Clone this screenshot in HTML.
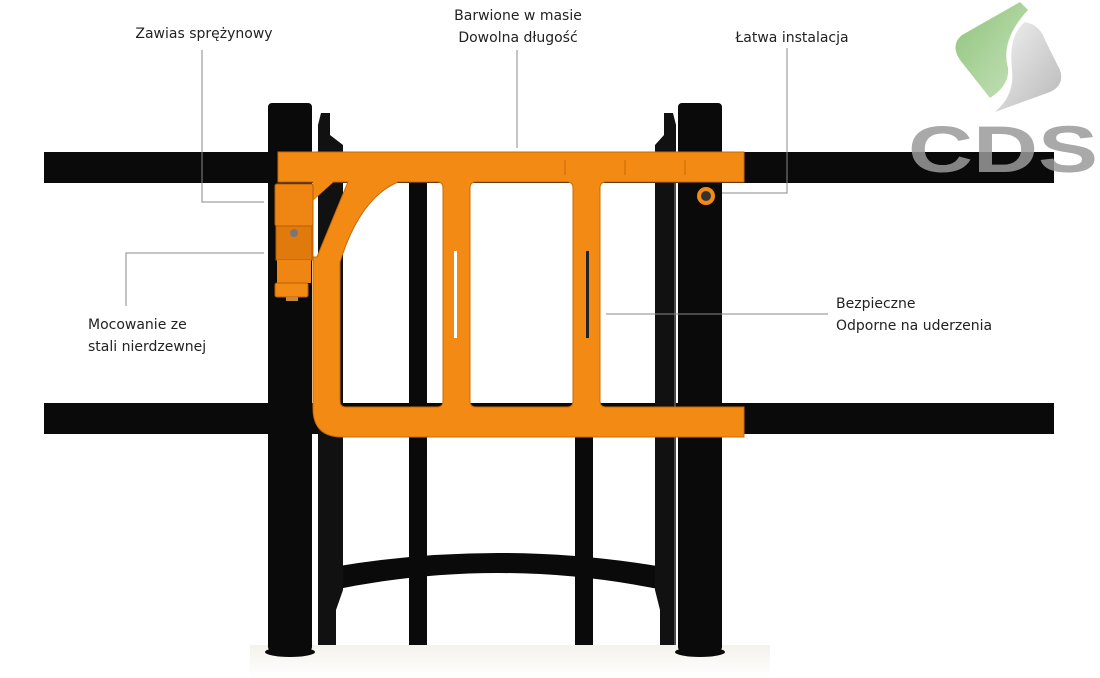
<!DOCTYPE html>
<html><head><meta charset="utf-8"><style>
html,body{margin:0;padding:0;background:#fff;width:1100px;height:678px;overflow:hidden}
svg{display:block}
text{font-family:"DejaVu Sans","Liberation Sans",sans-serif;font-size:14px;fill:#222}
</style></head><body>
<svg width="1100" height="678" viewBox="0 0 1100 678" xmlns="http://www.w3.org/2000/svg">
<defs>
<linearGradient id="gr" x1="0" y1="0" x2="0" y2="1"><stop offset="0" stop-color="#f4f2ec"/><stop offset="1" stop-color="#ffffff"/></linearGradient>
<linearGradient id="gl" x1="0" y1="0" x2="1" y2="1"><stop offset="0" stop-color="#8fc47c"/><stop offset="1" stop-color="#c8e2bc"/></linearGradient>
<linearGradient id="gy" x1="0" y1="0" x2="1" y2="1"><stop offset="0" stop-color="#f2f2f2"/><stop offset="1" stop-color="#b8b8b8"/></linearGradient>
</defs>
<rect x="250" y="645" width="520" height="33" fill="url(#gr)"/>
<rect x="44" y="152" width="1010" height="31" fill="#0a0a0a"/>
<rect x="44" y="403" width="1010" height="31" fill="#0a0a0a"/>
<path d="M333,590 Q498,556 663,590 L663,567 Q498,539 333,567 Z" fill="#0a0a0a"/>
<rect x="409" y="183" width="18" height="462" fill="#0a0a0a"/>
<rect x="575" y="183" width="18" height="462" fill="#0a0a0a"/>
<path d="M318,125 L321,113 L330,113 L330,135 L343,145 L343,590 L336,610 L336,645 L318,645 Z" fill="#111"/>
<path d="M676,125 L673,113 L664,113 L664,135 L655,145 L655,590 L660,610 L660,645 L676,645 Z" fill="#111"/>
<rect x="268" y="103" width="44" height="548" rx="4" fill="#0a0a0a"/>
<rect x="678" y="103" width="44" height="548" rx="4" fill="#0a0a0a"/>
<ellipse cx="290" cy="652" rx="25" ry="5" fill="#0a0a0a"/>
<ellipse cx="700" cy="652" rx="25" ry="5" fill="#0a0a0a"/>
<line x1="675" y1="183" x2="675" y2="645" stroke="#888" stroke-width="1"/>
<path fill-rule="evenodd" fill="#f28a14" stroke="#c96a05" stroke-width="1"
 d="M278,152 H744 V182 H606 Q600,182 600,188 V401 Q600,407 606,407 H744 V437 H342 Q313,437 313,408 V182 H278 Z
 M398,182 H437 Q443,182 443,188 V401 Q443,407 437,407 H346 Q340,407 340,401 V262 Q360,198 398,182 Z
 M476,182 H567 Q573,182 573,188 V401 Q573,407 567,407 H476 Q470,407 470,401 V188 Q470,182 476,182 Z
 M333,182 H348 L317,257 L313,257 L313,200 Z"/>
<path d="M313,200 L333,182 L313,182 Z" fill="#f28a14"/>
<rect x="275" y="184" width="38" height="42" rx="2" fill="#ef8512" stroke="#b85f05"/>
<rect x="276" y="226" width="36" height="34" fill="#e07a0c" stroke="#b85f05"/>
<circle cx="294" cy="233" r="4" fill="#777"/>
<rect x="277" y="260" width="34" height="23" fill="#ef8512"/>
<rect x="275" y="283" width="33" height="14" rx="2" fill="#f28a14" stroke="#b85f05"/>
<rect x="286" y="297" width="12" height="4" fill="#c08a3a"/>
<rect x="454" y="251" width="3" height="87" fill="#fff"/>
<rect x="586" y="251" width="3" height="87" fill="#222"/>
<g stroke="#c96a05" stroke-width="1"><line x1="565" y1="160" x2="565" y2="175"/><line x1="625" y1="160" x2="625" y2="175"/><line x1="685" y1="160" x2="685" y2="175"/></g>
<circle cx="706" cy="196" r="9" fill="#f28a14"/><circle cx="706" cy="196" r="5" fill="#333"/>
<g stroke="#888" stroke-width="1" fill="none">
<polyline points="202,50 202,202 264,202"/>
<line x1="517" y1="50" x2="517" y2="148"/>
<polyline points="787,48 787,193 722,193"/>
<polyline points="126,306 126,253 264,253"/>
<line x1="606" y1="314" x2="828" y2="314"/>
</g>
<text x="204" y="38" text-anchor="middle">Zawias sprężynowy</text>
<text x="518" y="20" text-anchor="middle">Barwione w masie</text>
<text x="518" y="42" text-anchor="middle">Dowolna długość</text>
<text x="792" y="42" text-anchor="middle">Łatwa instalacja</text>
<text x="88" y="329">Mocowanie ze</text>
<text x="88" y="351">stali nierdzewnej</text>
<text x="836" y="308">Bezpieczne</text>
<text x="836" y="330">Odporne na uderzenia</text>
<path d="M1020,2 L1028,10 Q1000,40 1008,68 Q1010,85 990,98 L960,60 Q950,45 962,35 Z" fill="url(#gl)"/>
<path d="M1025,22 Q1040,25 1045,40 L1060,70 Q1065,85 1050,92 L995,112 Q1015,95 1012,70 Q1008,35 1025,22 Z" fill="url(#gy)"/>
<text x="908" y="172" textLength="190" lengthAdjust="spacingAndGlyphs" style="font-family:'Liberation Sans',sans-serif;font-weight:bold;font-size:66px;fill:#9a9a9a;fill-opacity:0.85">CDS</text>
</svg>
</body></html>
